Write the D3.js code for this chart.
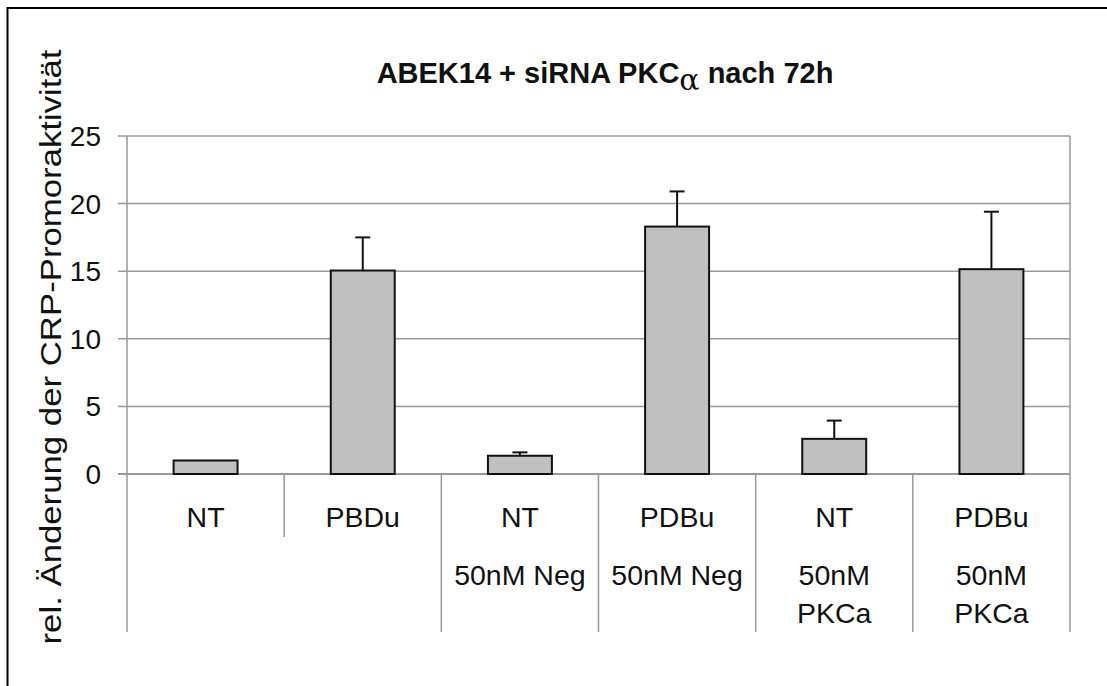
<!DOCTYPE html>
<html>
<head>
<meta charset="utf-8">
<script src="https://cdn.jsdelivr.net/npm/d3@7"></script>
<style>
  body { margin: 0; background: #fff; }
  text { font-family: Arial, "Liberation Sans", sans-serif; fill: #111; }
</style>
</head>
<body>
<div id="chart"></div>
<script>
  const row1 = ["NT", "PBDu", "NT", "PDBu", "NT", "PDBu"];
  const row2 = ["", "", "50nM Neg", "50nM Neg", "50nM\nPKCa", "50nM\nPKCa"];
  const values = [1.0, 15.05, 1.35, 18.3, 2.6, 15.15];
  const errors = [0, 2.45, 0.25, 2.6, 1.35, 4.25];
  const yTicks = [0, 5, 10, 15, 20, 25];

  const width = 1107;
  const height = 686;
  const plotLeft = 127, plotRight = 1070, plotTop = 136, plotBottom = 474;
  const labelBottom = 632;

  const svg = d3.select("#chart")
    .append("svg")
    .attr("width", width)
    .attr("height", height);

  // outer frame (right and bottom run off the picture)
  svg.append("rect")
    .attr("x", 7.5).attr("y", 8)
    .attr("width", 1200).attr("height", 800)
    .attr("fill", "none")
    .attr("stroke", "#000")
    .attr("stroke-width", 2);

  const x = d3.scaleBand()
    .domain(d3.range(row1.length))
    .range([plotLeft, plotRight])
    .paddingInner(0.593)
    .paddingOuter(0.2965);

  const y = d3.scaleLinear()
    .domain([0, 25])
    .range([plotBottom, plotTop]);

  // grid lines
  svg.append("g")
    .selectAll("line")
    .data(yTicks)
    .enter()
    .append("line")
    .attr("x1", plotLeft - 9)
    .attr("x2", plotRight)
    .attr("y1", d => y(d))
    .attr("y2", d => y(d))
    .attr("stroke", d => d === 0 ? "#777" : "#999")
    .attr("stroke-width", 1.5);

  // y axis labels
  svg.append("g")
    .selectAll("text")
    .data(yTicks)
    .enter()
    .append("text")
    .attr("x", 101)
    .attr("y", d => y(d) + 10)
    .attr("text-anchor", "end")
    .style("font-size", "28px")
    .text(d => d);

  // category separators
  const step = x.step();
  const bounds = d3.range(row1.length + 1);
  svg.append("g")
    .selectAll("line")
    .data(bounds)
    .enter()
    .append("line")
    .attr("x1", i => plotLeft + i * step)
    .attr("x2", i => plotLeft + i * step)
    .attr("y1", i => (i === 0 || i === row1.length) ? plotTop : plotBottom)
    .attr("y2", i => (i > 0 && i < row1.length && row2[i - 1] === "" && row2[i] === "") ? 537 : labelBottom)
    .attr("stroke", "#999")
    .attr("stroke-width", 1.5);

  // bars
  svg.append("g")
    .selectAll("rect")
    .data(values)
    .enter()
    .append("rect")
    .attr("x", (d, i) => x(i))
    .attr("y", d => y(d))
    .attr("width", x.bandwidth())
    .attr("height", d => plotBottom - y(d))
    .attr("fill", "#c0c0c0")
    .attr("stroke", "#111")
    .attr("stroke-width", 2);

  // error bars
  const err = svg.append("g")
    .selectAll("g")
    .data(values.map((v, i) => ({ v, e: errors[i], i })).filter(d => d.e > 0))
    .enter()
    .append("g")
    .attr("stroke", "#111")
    .attr("stroke-width", 2);

  err.append("line")
    .attr("x1", d => x(d.i) + x.bandwidth() / 2)
    .attr("x2", d => x(d.i) + x.bandwidth() / 2)
    .attr("y1", d => y(d.v))
    .attr("y2", d => y(d.v + d.e));

  err.append("line")
    .attr("x1", d => x(d.i) + x.bandwidth() / 2 - 7.5)
    .attr("x2", d => x(d.i) + x.bandwidth() / 2 + 7.5)
    .attr("y1", d => y(d.v + d.e))
    .attr("y2", d => y(d.v + d.e));

  // category labels
  svg.append("g")
    .selectAll("text")
    .data(row1)
    .enter()
    .append("text")
    .attr("x", (d, i) => x(i) + x.bandwidth() / 2)
    .attr("y", 527)
    .attr("text-anchor", "middle")
    .style("font-size", "28.5px")
    .text(d => d);

  const lab2 = svg.append("g")
    .selectAll("text")
    .data(row2)
    .enter()
    .append("text")
    .attr("text-anchor", "middle")
    .style("font-size", "28.5px");

  lab2.selectAll("tspan")
    .data((d, i) => d.split("\n").map(s => ({ s, i })))
    .enter()
    .append("tspan")
    .attr("x", d => x(d.i) + x.bandwidth() / 2)
    .attr("y", (d, j) => 585 + j * 38)
    .text(d => d.s);

  // y axis title
  svg.append("text")
    .attr("transform", "translate(61, 347) rotate(-90)")
    .attr("text-anchor", "middle")
    .attr("textLength", 595)
    .attr("lengthAdjust", "spacingAndGlyphs")
    .style("font-size", "29px")
    .text("rel. Änderung der CRP-Promoraktivität");

  // title
  const title = svg.append("text")
    .attr("x", 605)
    .attr("y", 83)
    .attr("text-anchor", "middle")
    .style("font-size", "29px")
    .style("font-weight", "bold");
  title.append("tspan").text("ABEK14 + siRNA PKC");
  title.append("tspan")
    .attr("dy", 7)
    .style("font-weight", "normal")
    .style("font-family", "'DejaVu Serif', serif")
    .style("font-size", "30px")
    .text("α");
  title.append("tspan")
    .attr("dy", -7)
    .text(" nach 72h");
</script>
</body>
</html>
